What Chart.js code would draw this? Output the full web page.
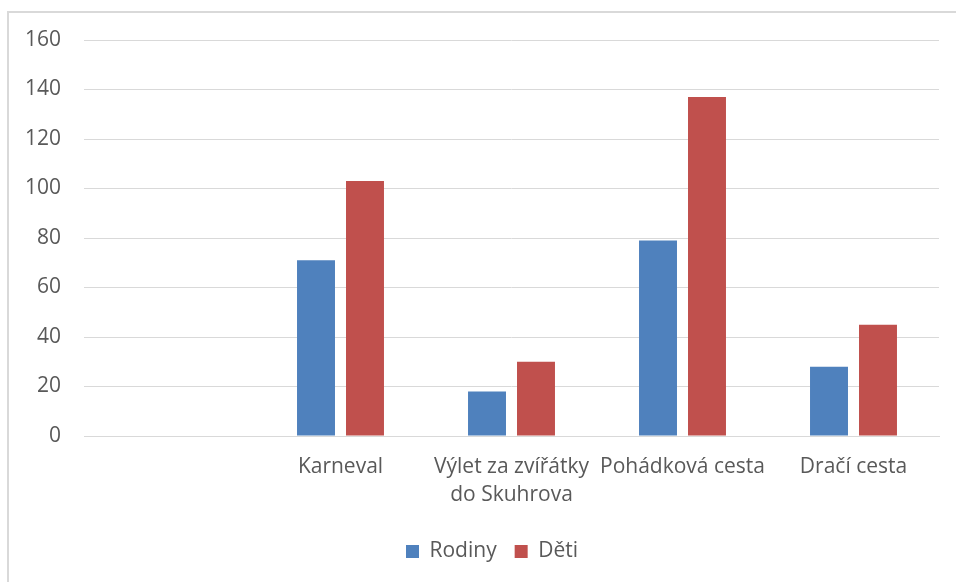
<!DOCTYPE html>
<html>
<head>
<meta charset="utf-8">
<script src="https://cdn.jsdelivr.net/npm/chart.js@4.4.1/dist/chart.umd.min.js"></script>
<style>
  html, body { margin: 0; padding: 0; background: #fff; }
  #wrap { position: relative; width: 956px; height: 582px; }
  #frame { position: absolute; left: 7px; top: 11px; right: 0; bottom: 0;
           border-left: 2px solid #d9d9d9; border-top: 2px solid #d9d9d9; }
</style>
</head>
<body>
<div id="wrap">
  <div id="frame"></div>
  <canvas id="chart" width="956" height="582"></canvas>
</div>
<script>
var categories = ['', 'Karneval', ['Výlet za zvířátky', 'do Skuhrova'], 'Pohádková cesta', 'Dračí cesta'];
var rodiny = [null, 71, 18, 79, 28];
var deti = [null, 103, 30, 137, 45];
var yTicks = [0, 20, 40, 60, 80, 100, 120, 140, 160];

var textColor = '#595959';
var gridColor = '#d9d9d9';
Chart.defaults.font.family = "'Open Sans', sans-serif";
Chart.defaults.font.size = 21;
Chart.defaults.color = textColor;

// move the legend box a bit right, the reference centres it on the whole frame
var legendShift = {
  id: 'legendShift',
  afterLayout: function(chart) {
    chart.legend.left += 45;
  }
};

new Chart(document.getElementById('chart'), {
  type: 'bar',
  data: {
    labels: categories,
    datasets: [{
        label: 'Rodiny',
        data: rodiny,
        backgroundColor: '#4f81bd',
        categoryPercentage: 0.573,
        barPercentage: 0.775
      }, {
        label: 'Děti',
        data: deti,
        backgroundColor: '#c0504d',
        categoryPercentage: 0.573,
        barPercentage: 0.775
      }
    ]
  },
  options: {
    responsive: false,
    animation: false,
    layout: {
      padding: { left: 0, right: 17, top: 40, bottom: 10 }
    },
    plugins: {
      legend: {
        position: 'bottom',
        labels: {
          boxWidth: 13,
          boxHeight: 13,
          padding: 18,
          color: textColor
        }
      },
      tooltip: { enabled: false }
    },
    scales: {
      x: {
        grid: { display: false, drawTicks: false },
        border: { display: true, color: gridColor, width: 1 },
        ticks: { padding: 17, maxRotation: 0, autoSkip: false, font: { lineHeight: 1.33 } },
        afterFit: function(scale) { scale.height = 87; }
      },
      y: {
        min: 0,
        max: 160,
        afterBuildTicks: function(scale) {
          scale.ticks = yTicks.map(function(v) { return { value: v }; });
        },
        grid: { color: gridColor, lineWidth: 1, drawTicks: false },
        border: { display: false },
        ticks: { padding: 23 },
        afterFit: function(scale) { scale.width = 84; }
      }
    }
  },
  plugins: [legendShift]
});
</script>
</body>
</html>
